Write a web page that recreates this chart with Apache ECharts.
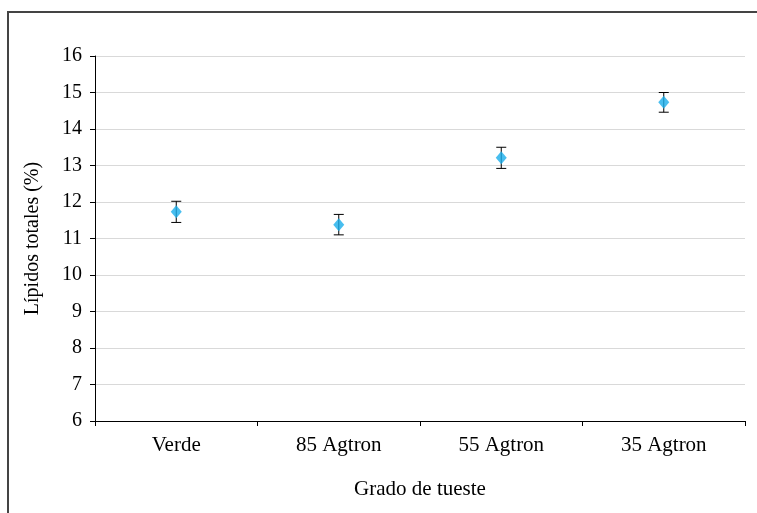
<!DOCTYPE html>
<html><head><meta charset="utf-8">
<script src="https://cdn.jsdelivr.net/npm/echarts@6/dist/echarts.min.js"></script>
<style>html,body{margin:0;padding:0;background:#fff}#c{width:757px;height:513px}</style>
</head><body><div id="c"></div>
<script>
var categories = ['Verde', '85 Agtron', '55 Agtron', '35 Agtron'];
var means = [11.73, 11.38, 13.21, 14.73];
var errors = [0.29, 0.28, 0.29, 0.27];
var yTicks = {min: 6, max: 16, interval: 1};

var chart = echarts.init(document.getElementById('c'));
var font = 'Liberation Serif, Times New Roman, serif';
var errData = means.map(function (m, i) { return [i, m - errors[i], m + errors[i]]; });
chart.setOption({
  animation: false,
  graphic: [{type: 'rect', shape: {x: 8, y: 12, width: 800, height: 560}, style: {fill: 'none', stroke: '#444', lineWidth: 2}, z: 100}],
  grid: {left: 95, right: 12, top: 56, bottom: 92},
  xAxis: {
    type: 'category', data: categories, boundaryGap: true,
    axisLine: {lineStyle: {color: '#000', width: 1}},
    axisTick: {show: true, interval: 0, length: 5, lineStyle: {color: '#000'}},
    axisLabel: {fontFamily: font, fontSize: 21, color: '#000', margin: 14},
    name: 'Grado de tueste', nameLocation: 'middle', nameGap: 58,
    nameTextStyle: {fontFamily: font, fontSize: 21, color: '#000'}
  },
  yAxis: {
    type: 'value', min: yTicks.min, max: yTicks.max, interval: yTicks.interval,
    axisLine: {show: true, lineStyle: {color: '#000', width: 1}},
    axisTick: {show: true, length: 5, lineStyle: {color: '#000'}},
    axisLabel: {fontFamily: font, fontSize: 20, color: '#000', margin: 13},
    splitLine: {lineStyle: {color: '#d9d9d9', width: 1}},
    name: 'Lípidos totales (%)', nameLocation: 'middle', nameGap: 52, nameRotate: 90,
    nameTextStyle: {fontFamily: font, fontSize: 20, color: '#000'}
  },
  series: [{
    type: 'custom',
    data: errData,
    renderItem: function (params, api) {
      var lo = api.coord([api.value(0), api.value(1)]);
      var hi = api.coord([api.value(0), api.value(2)]);
      var w = 5;
      var st = {stroke: '#000', lineWidth: 1};
      return {type: 'group', children: [
        {type: 'line', shape: {x1: hi[0], y1: hi[1], x2: lo[0], y2: lo[1]}, style: st},
        {type: 'line', shape: {x1: hi[0] - w, y1: hi[1], x2: hi[0] + w, y2: hi[1]}, style: st},
        {type: 'line', shape: {x1: lo[0] - w, y1: lo[1], x2: lo[0] + w, y2: lo[1]}, style: st}
      ]};
    },
    z: 2
  }, {
    type: 'scatter', data: means, symbol: 'diamond', symbolSize: [11, 13],
    itemStyle: {color: '#1AAEEB'}, z: 3
  }]
});
</script></body></html>
